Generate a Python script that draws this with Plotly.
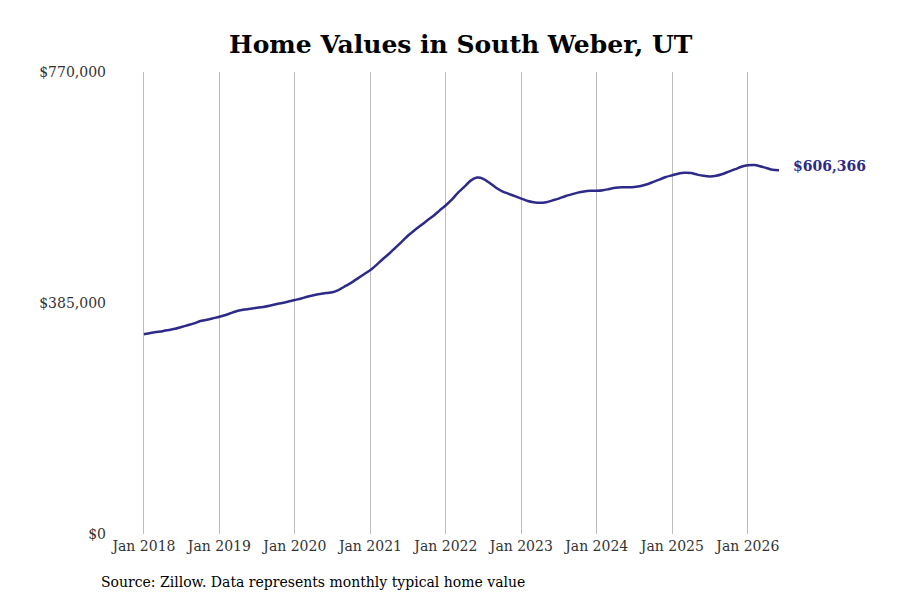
import plotly.graph_objects as go
import pandas as pd

# typical home value, monthly, Jan 2018 - Jun 2026 (in $)
start_month = "2018-01-01"
values_k = [
    # 2018
    333, 335, 336.5, 338, 340, 342, 345, 348, 351, 355, 357, 359.5,
    # 2019
    362, 365, 368.5, 372, 374, 375.5, 377, 378.5, 380.5, 383, 385, 387.5,
    # 2020
    390, 392.5, 395.5, 398, 400, 401.5, 403, 407, 413, 419, 426, 433,
    # 2021
    440, 449, 458, 467, 477, 487, 497, 506, 514, 522, 530, 539,
    # 2022
    548, 558, 569, 579, 589, 594, 592, 585, 577, 571, 567, 563,
    # 2023
    559, 555, 553, 552, 553, 556, 559, 563, 566, 569, 571, 572,
    # 2024
    572, 573, 575, 577, 578, 578, 578.5, 580, 583, 587, 591, 595,
    # 2025
    598, 601, 602, 601.5, 599, 597, 596, 597, 600, 604, 608, 612,
    # 2026
    614.5, 615, 613, 610, 607, 606.366,
]
home_values = [v * 1000 for v in values_k]
months = pd.date_range(start_month, periods=len(home_values), freq="MS")

y_ticks = [0, 385000, 770000]
y_tick_labels = ["$0", "$385,000", "$770,000"]
x_ticks = pd.date_range("2018-01-01", "2026-01-01", freq="YS")
x_tick_labels = [d.strftime("Jan %Y") for d in x_ticks]

line_colour = "#2e2a8a"
font_family = "DejaVu Serif"

fig = go.Figure()

fig.add_trace(go.Scatter(
    x=months,
    y=home_values,
    mode="lines",
    line=dict(color=line_colour, width=2.5, shape="spline", smoothing=0.6),
    showlegend=False,
    hoverinfo="skip"
))

# end label showing the latest value
fig.add_annotation(
    x=months[-1], y=home_values[-1],
    text=f"<b>${home_values[-1]:,.0f}</b>",
    showarrow=False,
    xanchor="left", yanchor="middle",
    xshift=12, yshift=4,
    font=dict(family=font_family, size=14, color=line_colour)
)

# source note under the chart
fig.add_annotation(
    x=-0.021, y=-0.104, xref="paper", yref="paper",
    text="Source: Zillow. Data represents monthly typical home value",
    showarrow=False, xanchor="left", yanchor="middle",
    font=dict(family=font_family, size=14, color="black")
)

fig.update_layout(
    width=900, height=600,
    paper_bgcolor="white", plot_bgcolor="white",
    margin=dict(l=107, r=30, t=64, b=74),
    font=dict(family=font_family, size=14, color="#333333"),
    title=dict(
        text="<b>Home Values in South Weber, UT</b>",
        x=0.503, xanchor="center", y=0.94, yanchor="middle",
        font=dict(family=font_family, size=25, color="black")
    ),
    xaxis=dict(
        range=["2017-08-14", "2027-09-23"],
        tickvals=x_ticks, ticktext=x_tick_labels,
        showgrid=True, gridcolor="#bdbdbd", gridwidth=1,
        showline=False, zeroline=False, ticks="",
        ticklabelstandoff=2,
        tickfont=dict(family=font_family, size=14, color="#333333")
    ),
    yaxis=dict(
        range=[0, 770000],
        tickvals=y_ticks, ticktext=y_tick_labels,
        showgrid=False, showline=False, zeroline=False, ticks="",
        ticklabelstandoff=8,
        tickfont=dict(family=font_family, size=14, color="#333333")
    )
)

fig.write_html("out.html")
